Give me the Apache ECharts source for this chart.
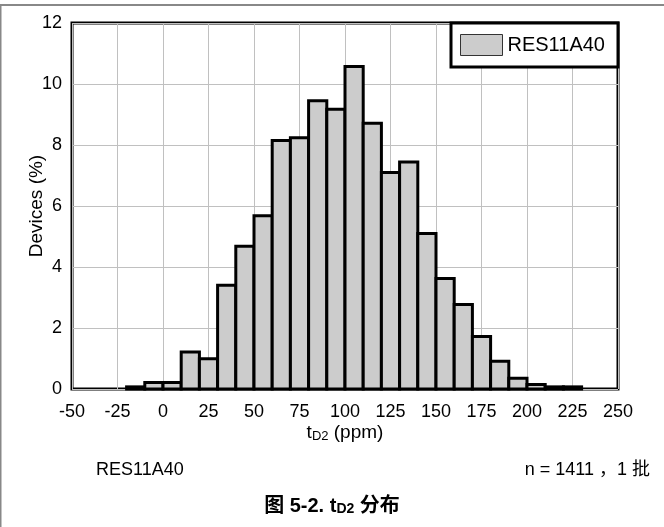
<!DOCTYPE html>
<html>
<head>
<meta charset="utf-8">
<script src="https://cdn.jsdelivr.net/npm/echarts@6/dist/echarts.min.js"></script>
<style>
    html, body { margin: 0; padding: 0; background: #fff; }
    #main { width: 664px; height: 527px; }
</style>
</head>
<body>
<div id="main"></div>
<script>
    // bin start (ppm), each bin is 10 ppm wide
    var binStarts = [-20, -10, 0, 10, 20, 30, 40, 50, 60, 70, 80, 90, 100, 110, 120, 130, 140, 150, 160, 170, 180, 190, 200, 210, 220];
    var devicePct = [0.07, 0.21, 0.21, 1.21, 0.99, 3.4, 4.68, 5.68, 8.15, 8.24, 9.45, 9.17, 10.57, 8.71, 7.1, 7.44, 5.1, 3.62, 2.77, 1.72, 0.91, 0.35, 0.15, 0.07, 0.07];
    var binWidth = 10;
    var xTicks = [-50, 250, 25];   // min, max, step
    var yTicks = [0, 12, 2];
    var seriesName = 'RES11A40';

    var font = 'Arial, "Liberation Sans", "Noto Sans CJK SC", sans-serif';
    var histData = binStarts.map(function (s, i) {
        return [s, s + binWidth, devicePct[i]];
    });

    var myChart = echarts.init(document.getElementById('main'));
    var option = {
        animation: false,
        backgroundColor: '#fff',
        textStyle: { fontFamily: font, color: '#000' },
        grid: {
            left: 72, top: 23, right: 46, bottom: 138,
            show: true, borderColor: '#000', borderWidth: 3, backgroundColor: 'transparent'
        },
        legend: {
            data: [{
                name: seriesName, icon: 'rect',
                itemStyle: { color: '#cccccc', borderColor: '#333', borderWidth: 1 }
            }],
            left: 455, top: 29,
            itemWidth: 42, itemHeight: 21,
            textStyle: { fontSize: 20, color: '#000', fontFamily: font },
            z: 10
        },
        xAxis: {
            type: 'value',
            min: xTicks[0], max: xTicks[1], interval: xTicks[2],
            name: '{t|t}{s|D2}{t| (ppm)}',
            nameLocation: 'middle', nameGap: 34,
            nameMoveOverlap: false,
            nameTextStyle: {
                rich: {
                    t: { fontSize: 19, fontFamily: font, color: '#000' },
                    s: { fontSize: 13, fontFamily: font, color: '#000', verticalAlign: 'bottom', padding: [7, 0, 0, 0] }
                }
            },
            axisLine: { show: false },
            axisTick: { show: false },
            axisLabel: { fontSize: 18, color: '#000', margin: 14 },
            splitLine: { lineStyle: { color: '#c0c0c0', width: 1 } }
        },
        yAxis: {
            type: 'value',
            min: yTicks[0], max: yTicks[1], interval: yTicks[2],
            name: 'Devices (%)',
            nameLocation: 'middle', nameGap: 26,
            nameMoveOverlap: false,
            nameTextStyle: { fontSize: 19, color: '#000' },
            axisLine: { show: false },
            axisTick: { show: false },
            axisLabel: { fontSize: 18, color: '#000', margin: 10 },
            splitLine: { lineStyle: { color: '#c0c0c0', width: 1 } }
        },
        graphic: [
            { type: 'line', shape: { x1: 0.5, y1: 5, x2: 0.5, y2: 527 }, style: { stroke: '#888', lineWidth: 2 } },
            { type: 'line', shape: { x1: 0, y1: 5, x2: 664, y2: 5 }, style: { stroke: '#888', lineWidth: 2 } },
            {
                type: 'rect', z: 5,
                shape: { x: 451, y: 23, width: 167, height: 44 },
                style: { fill: '#fff', stroke: '#000', lineWidth: 3 }
            },
            {
                type: 'text', left: 96, top: 461,
                style: { text: 'RES11A40', font: '18px ' + font, fill: '#000' }
            },
            {
                type: 'text', right: 14, top: 461,
                style: { text: 'n = 1411 ，1 批', font: '18px ' + font, fill: '#000' }
            },
            {
                type: 'text', left: 'center', top: 496,
                style: {
                    text: '{b|图 5-2. t}{bs|D2}{b| 分布}',
                    rich: {
                        b: { fontSize: 20, fontWeight: 'bold', fontFamily: font, fill: '#000' },
                        bs: { fontSize: 14, fontWeight: 'bold', fontFamily: font, fill: '#000', verticalAlign: 'bottom', padding: [7, 0, 0, 0] }
                    }
                }
            }
        ],
        series: [{
            name: seriesName,
            type: 'custom',
            z: 3,
            itemStyle: { color: '#cccccc' },
            encode: { x: [0, 1], y: 2 },
            data: histData,
            renderItem: function (params, api) {
                var p0 = api.coord([api.value(0), 0]);
                var p1 = api.coord([api.value(1), api.value(2)]);
                return {
                    type: 'rect',
                    shape: { x: p0[0], y: p1[1], width: p1[0] - p0[0], height: p0[1] - p1[1] },
                    style: { fill: '#cccccc', stroke: '#000', lineWidth: 3 }
                };
            }
        }]
    };
    myChart.setOption(option);
</script>
</body>
</html>
